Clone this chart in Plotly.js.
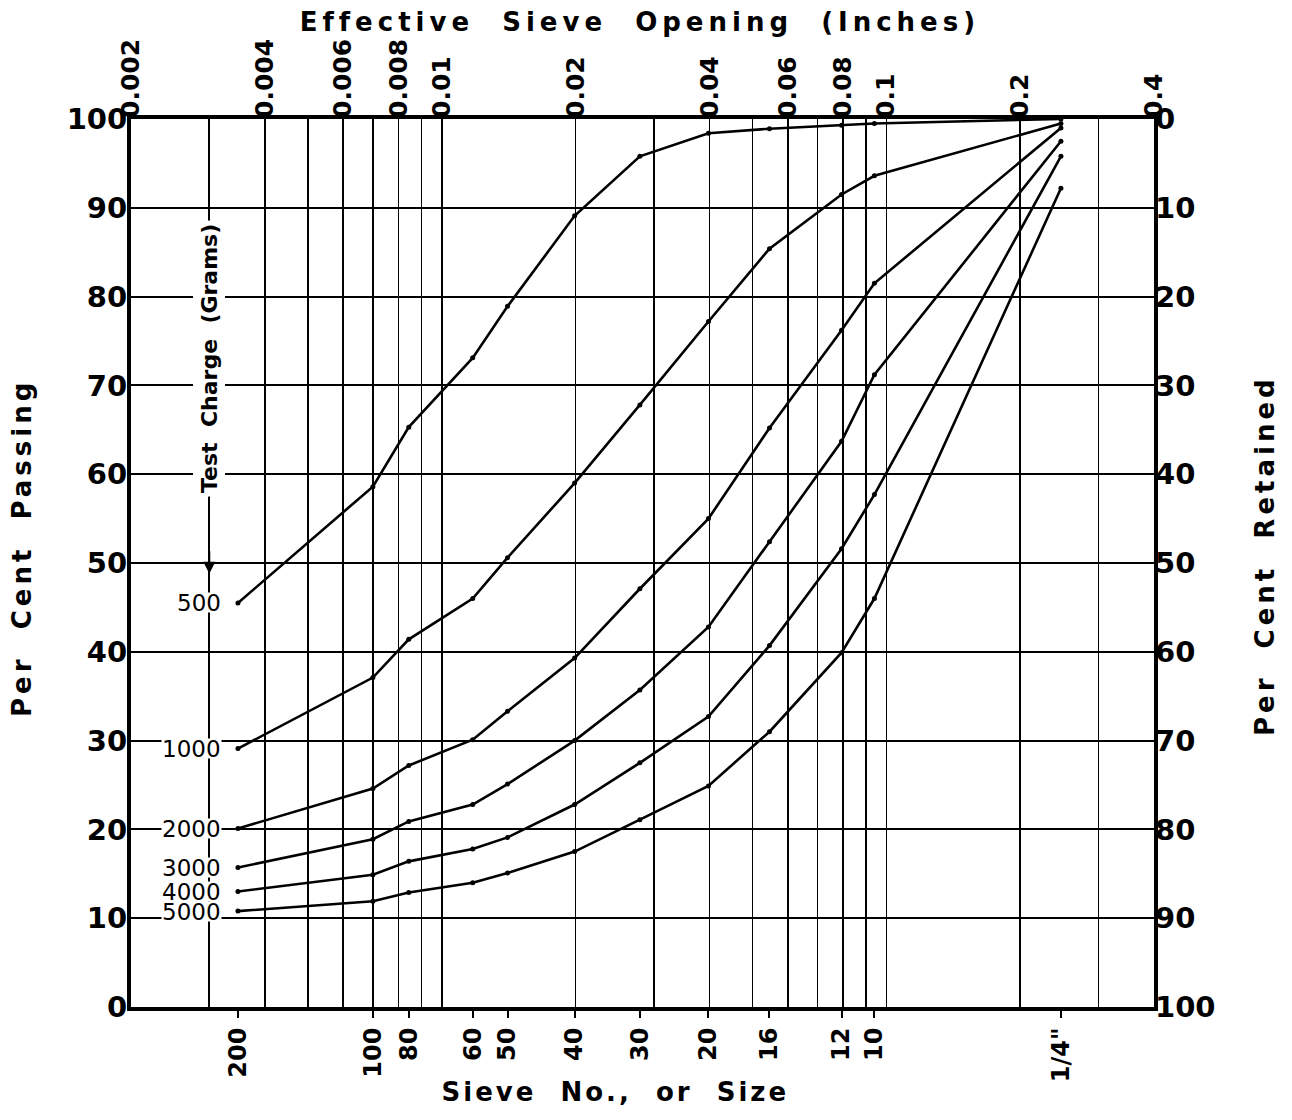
<!DOCTYPE html>
<html>
<head>
<meta charset="utf-8">
<script src="https://cdn.plot.ly/plotly-3.0.1.min.js"></script>
<style>
  html, body { margin: 0; padding: 0; background: #fff; }
  #chart { width: 1292px; height: 1120px; }
</style>
</head>
<body>
<div id="chart"></div>
<script>
// ---- data ----
const sieveLabels   = ['200', '100', '80', '60', '50', '40', '30', '20', '16', '12', '10', '1/4"'];
const sieveOpenings = [0.00348, 0.0070, 0.00843, 0.01174, 0.01406, 0.0199, 0.0279, 0.0398, 0.0546, 0.0793, 0.094, 0.247];
const inchTicks  = [0.002, 0.004, 0.006, 0.008, 0.01, 0.02, 0.04, 0.06, 0.08, 0.1, 0.2, 0.4];
const inchLabels = ['0.002', '0.004', '0.006', '0.008', '0.01', '0.02', '0.04', '0.06', '0.08', '0.1', '0.2', '0.4'];
const gridInches = [0.003, 0.004, 0.005, 0.006, 0.007, 0.008, 0.009, 0.01, 0.02, 0.03, 0.04, 0.05, 0.06, 0.07, 0.08, 0.09, 0.1, 0.2, 0.3];
const passingTicks  = [0, 10, 20, 30, 40, 50, 60, 70, 80, 90, 100];
const retainedTicks = [0, 10, 20, 30, 40, 50, 60, 70, 80, 90, 100];

const charges = ['500', '1000', '2000', '3000', '4000', '5000'];
const passing500  = [45.5, 58.6, 65.3, 73.1, 78.9, 89.1, 95.8, 98.4, 98.9, 99.3, 99.5, 100];
const passing1000 = [29.1, 37.1, 41.4, 46.0, 50.6, 59.0, 67.8, 77.2, 85.4, 91.5, 93.6, 99.5];
const passing2000 = [20.1, 24.6, 27.2, 30.1, 33.3, 39.3, 47.1, 55.0, 65.2, 76.2, 81.5, 99.0];
const passing3000 = [15.7, 18.9, 20.9, 22.8, 25.1, 30.0, 35.7, 42.8, 52.4, 63.7, 71.2, 97.5];
const passing4000 = [13.0, 14.9, 16.4, 17.8, 19.1, 22.8, 27.5, 32.7, 40.7, 51.6, 57.7, 95.8];
const passing5000 = [10.8, 11.9, 12.9, 14.0, 15.1, 17.5, 21.1, 24.9, 31.0, 39.9, 46.0, 92.2];
const series = [passing500, passing1000, passing2000, passing3000, passing4000, passing5000];

// ---- styling ----
const FONT = 'DejaVu Sans, Liberation Sans, sans-serif';
const BLACK = '#000000';
const xRange = [Math.log10(inchTicks[0]), Math.log10(inchTicks[inchTicks.length - 1])];

const traces = series.map((ys, i) => ({
  x: sieveOpenings, y: ys, name: charges[i],
  type: 'scatter', mode: 'lines+markers',
  line: { color: BLACK, width: 2.6 },
  marker: { color: BLACK, size: 5 },
  hoverinfo: 'x+y+name'
}));
// invisible carriers for the secondary axes
traces.push({ x: sieveOpenings, y: passing500, xaxis: 'x2', yaxis: 'y2', mode: 'lines', opacity: 0, hoverinfo: 'skip', showlegend: false });
traces.push({ x: sieveOpenings, y: passing500, xaxis: 'x3', yaxis: 'y', mode: 'lines', opacity: 0, hoverinfo: 'skip', showlegend: false });

const titleFont = { family: FONT, size: 26, color: BLACK, weight: 'bold' };
const nb = '\u00a0\u00a0';
const centred = { xanchor: 'center', yanchor: 'middle', showarrow: false };

const annotations = [
  Object.assign({ text: 'Effective' + nb + 'Sieve' + nb + 'Opening' + nb + '(Inches)', xref: 'paper', yref: 'paper', x: 0.4976, y: 1.109, font: titleFont }, centred),
  Object.assign({ text: 'Sieve' + nb + 'No.,' + nb + 'or' + nb + 'Size', xref: 'paper', yref: 'paper', x: 0.474, y: -0.096, font: titleFont }, centred),
  Object.assign({ text: 'Per' + nb + 'Cent' + nb + 'Passing', xref: 'paper', yref: 'paper', x: -0.1065, y: 0.517, textangle: -90, font: titleFont }, centred),
  Object.assign({ text: 'Per' + nb + 'Cent' + nb + 'Retained', xref: 'paper', yref: 'paper', x: 1.1085, y: 0.509, textangle: -90, font: titleFont }, centred),
  Object.assign({ text: 'Test' + nb + 'Charge' + nb + '(Grams)', xref: 'x', yref: 'y', x: Math.log10(gridInches[0]), y: 73, textangle: -90,
    bgcolor: '#ffffff', borderpad: 3, font: { family: FONT, size: 22, color: BLACK, weight: 'bold' } }, centred),
  { text: '', xref: 'x', yref: 'y', x: Math.log10(gridInches[0]), y: 48.8, showarrow: true, ax: 0, ay: -24,
    arrowhead: 2, arrowsize: 1.2, arrowwidth: 2, arrowcolor: BLACK }
];
// charge labels at the start of each curve (compact boxes so the stacked labels do not hide each other)
for (let i = charges.length - 1; i >= 0; i--) {
  annotations.push({
    text: charges[i], xref: 'x', yref: 'y',
    x: Math.log10(sieveOpenings[0]), y: series[i][0],
    xanchor: 'right', yanchor: 'middle', xshift: -16, showarrow: false,
    bgcolor: '#ffffff', borderpad: 0, height: 19, valign: 'middle',
    font: { family: FONT, size: 23, color: BLACK }
  });
}

const layout = {
  width: 1292, height: 1120,
  margin: { l: 131, r: 138, t: 119, b: 113, pad: 0 },
  paper_bgcolor: '#ffffff', plot_bgcolor: '#ffffff',
  showlegend: false,
  xaxis: {
    type: 'log', range: xRange, tickmode: 'array', tickvals: sieveOpenings, ticktext: sieveLabels,
    tickangle: -90, ticks: 'outside', ticklen: 7, tickwidth: 2, tickcolor: BLACK,
    showgrid: false, zeroline: false, showline: true, linewidth: 4, linecolor: BLACK, mirror: true,
    tickfont: { family: FONT, size: 24, color: BLACK, weight: 'bold' }
  },
  xaxis2: {
    type: 'log', range: xRange, overlaying: 'x', side: 'top', anchor: 'y2',
    tickmode: 'array', tickvals: inchTicks, ticktext: inchLabels, tickangle: -90, ticks: '',
    showgrid: false, zeroline: false, showline: false,
    tickfont: { family: FONT, size: 25, color: BLACK, weight: 'bold' }
  },
  xaxis3: {
    type: 'log', range: xRange, overlaying: 'x', anchor: 'y',
    tickmode: 'array', tickvals: gridInches, showticklabels: false, ticks: '',
    showgrid: true, gridcolor: BLACK, gridwidth: 1.6, zeroline: false, showline: false
  },
  yaxis: {
    range: [0, 100], tickmode: 'array', tickvals: passingTicks, ticks: '',
    showgrid: true, gridcolor: BLACK, gridwidth: 2, zeroline: false,
    showline: true, linewidth: 4, linecolor: BLACK, mirror: true,
    ticklabelstandoff: -6,
    tickfont: { family: FONT, size: 29, color: BLACK, weight: 'bold' }
  },
  yaxis2: {
    range: [100, 0], overlaying: 'y', side: 'right', anchor: 'x2',
    tickmode: 'array', tickvals: retainedTicks, ticks: '',
    showgrid: false, zeroline: false, showline: false,
    tickfont: { family: FONT, size: 29, color: BLACK, weight: 'bold' }
  },
  annotations: annotations
};

Plotly.newPlot('chart', traces, layout, { displayModeBar: false, staticPlot: true }).then(() => {
  const spacing = { 0: '5px', 1: '3px', 2: '4px', 3: '4px' };
  Object.keys(spacing).forEach(idx => {
    document.querySelectorAll('.annotation[data-index="' + idx + '"] text').forEach(t => {
      t.style.letterSpacing = spacing[idx];
    });
  });
});
</script>
</body>
</html>
